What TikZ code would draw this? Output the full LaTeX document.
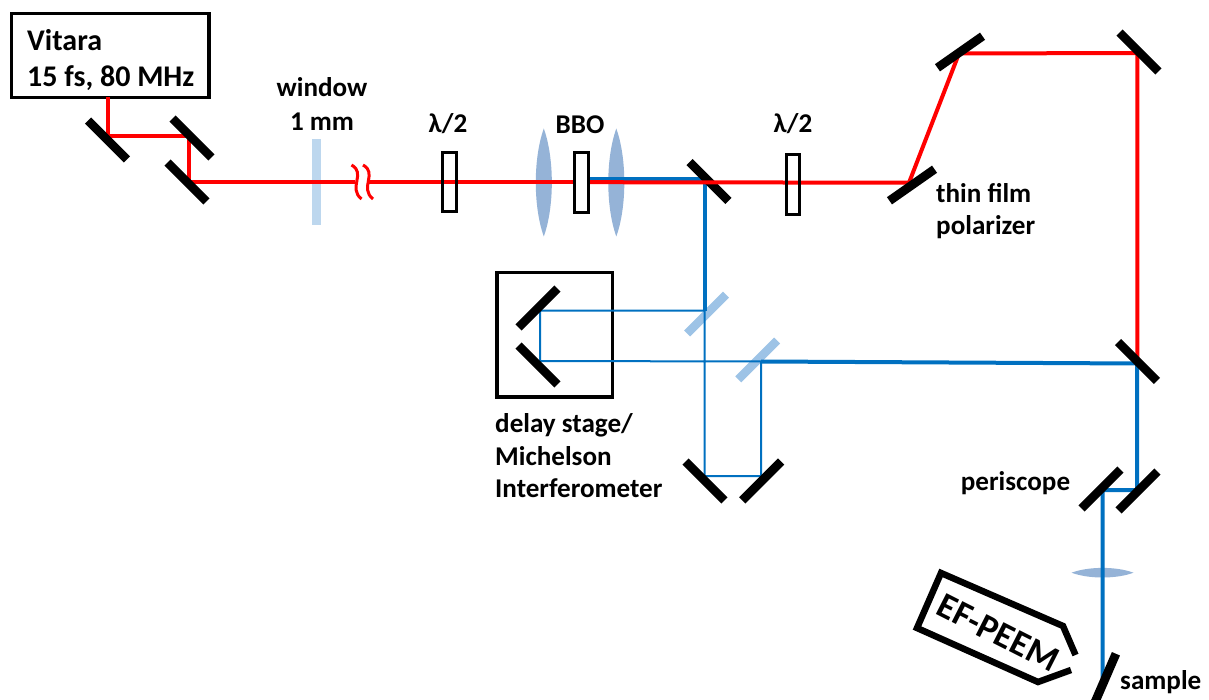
\documentclass[tikz,border=0pt]{standalone}
\usepackage{fontspec}
\setmainfont{Carlito}
\usetikzlibrary{positioning, calc}

\tikzset{
    mirror/.style={fill=black, minimum width=55pt, minimum height=8.8pt, inner sep=0pt},
    splitter/.style={fill=splitcolor, minimum width=55pt, minimum height=8.5pt, inner sep=0pt},
    plate/.style={draw=black, line width=3pt, fill=none, minimum width=13.5pt, minimum height=59.5pt, inner sep=0pt},
    frame/.style={draw=black, line width=3.8pt, inner sep=0pt},
    redbeam/.style={draw=beamred, line width=4pt},
    bluebeam/.style={draw=beamblue, line width=4pt},
    thinbeam/.style={draw=beamblue, line width=2pt},
    label/.style={font=\fontsize{27.1}{32}\selectfont\bfseries, inner sep=0pt},
    biglabel/.style={font=\fontsize{30}{36}\selectfont\bfseries, inner sep=0pt},
}

\begin{document}
\begin{tikzpicture}[x=1pt, y=-1pt]

\definecolor{beamred}{HTML}{FF0000}
\definecolor{beamblue}{HTML}{0070C0}
\definecolor{lenscolor}{HTML}{95B3D7}
\definecolor{splitcolor}{HTML}{9DC3E6}
\definecolor{windowcolor}{HTML}{BDD7EE}

\useasboundingbox (0,0) rectangle (1209,700);

% ---------------------------------------------------------------- boxes
\node[frame, minimum width=197.5pt, minimum height=84pt] (vitara) at (110.3,55.5) {};
\node[frame, minimum width=115.5pt, minimum height=124.5pt] (stage) at (554.7,334.7) {};

% ---------------------------------------------------------------- optics under the beams
\node[fill=windowcolor, minimum width=9.5pt, minimum height=86pt, inner sep=0pt] (window) at (316.7,182.3) {};
\foreach \name/\x/\y in {lensa/543.8/182.5, lensb/616.3/182.5} {
    \coordinate (\name) at (\x,\y);
    \fill[lenscolor] ($(\name)+(0,-54)$)
        .. controls ($(\name)+(10.7,-24)$) and ($(\name)+(10.7,24)$) .. ($(\name)+(0,54)$)
        .. controls ($(\name)+(-10.7,24)$) and ($(\name)+(-10.7,-24)$) .. ($(\name)+(0,-54)$);
}
\coordinate (lensc) at (1102.5,572.7);
\fill[lenscolor] ($(lensc)+(-31,0)$)
    .. controls ($(lensc)+(-14,-6.4)$) and ($(lensc)+(14,-6.4)$) .. ($(lensc)+(31,0)$)
    .. controls ($(lensc)+(14,6.4)$) and ($(lensc)+(-14,6.4)$) .. ($(lensc)+(-31,0)$);
\foreach \name/\x/\y in {splita/706.5/314, splitb/757.7/360} {
    \node[splitter, rotate=45] (\name) at (\x,\y) {};
}

% ---------------------------------------------------------------- beam corners
\coordinate (start) at (107.5,97);
\coordinate (ra) at (107.5,136);
\coordinate (rb) at (189,136);
\coordinate (rc) at (189,181.7);
\coordinate (rd) at (355,181.7);
\coordinate (re) at (368,181.9);
\coordinate (rf) at (573,181.9);
\coordinate (rg) at (590,182.2);
\coordinate (rh) at (909,182.7);
\coordinate (ri) at (959,53.5);
\coordinate (rj) at (1137.3,53);
\coordinate (rk) at (1137.3,358);
\coordinate (ba) at (590,179);
\coordinate (bb) at (704.5,179);
\coordinate (bc) at (704.5,310.7);
\coordinate (bd) at (704.5,476);
\coordinate (be) at (761,476);
\coordinate (bf) at (761,361.5);
\coordinate (bg) at (540,361);
\coordinate (bh) at (540,310.7);
\coordinate (bi) at (1137,363.5);
\coordinate (bj) at (1137,490);
\coordinate (bk) at (1102.7,490);
\coordinate (bl) at (1102.7,678);

% ---------------------------------------------------------------- beams
\draw[bluebeam] (ba) -- (bb) -- (bc);
\draw[thinbeam] (bc) -- (bd) -- (be) -- (bf) -- (bg) -- (bh) -- (bc);
\draw[bluebeam] (bf) -- (bi) -- (bj) -- (bk) -- (bl);

% the red line runs across this one
\node[mirror, rotate=-45] (md) at (709,181.5) {};

\draw[redbeam] (start) -- (ra) -- (rb) -- (rc) -- (rd);
\draw[redbeam] (re) -- (rf);
\draw[redbeam] (rg) -- (rh) -- (ri) -- (rj) -- (rk);

% the break in the line
\foreach \name/\x in {wava/356.5, wavb/368} {
    \coordinate (\name) at (\x,182);
    \draw[beamred, line width=3pt] ($(\name)+(-5,-17)$) .. controls ($(\name)+(10,-9)$) and ($(\name)+(-9,6)$) .. ($(\name)+(5,17)$);
}

% ---------------------------------------------------------------- mirrors
\foreach \name/\x/\y/\ang in {
    ma/107.5/140/-45, mb/192/138/-45, mc/187/182/-45,
    me/912/185/35, mf/960/52/35, mg/1139/52/-45,
    mh/1137.5/361.5/-45, mi/1138/491/45, mj/1101/489/45,
    dla/538/308/45, dlb/538/365/-45, ka/705/481/-45, kb/761.7/481/45,
    sample/1105/679/66.6} {
    \node[mirror, rotate=\ang] (\name) at (\x,\y) {};
}

% ---------------------------------------------------------------- plates
\node[plate] (hwa) at (449.7,182) {};
\node[plate, fill=white] (bbo) at (581.3,182.5) {};
\node[plate] (hwb) at (793,184.3) {};

% ---------------------------------------------------------------- EF-PEEM
\coordinate (pa) at (1075.5,655);
\coordinate (pb) at (1063,626);
\coordinate (pc) at (941,573);
\coordinate (pd) at (917,628);
\coordinate (pe) at (1038,682);
\coordinate (pf) at (1071,670);
\draw[black, line width=6.5pt, miter limit=4] (pa) -- (pb) -- (pc) -- (pd) -- (pe) -- (pf);
\node[font=\fontsize{36}{40}\selectfont\bfseries, inner sep=0pt, rotate=-26.9] (peem) at (998,633) {EF-PEEM};

% ---------------------------------------------------------------- labels
\node[biglabel, anchor=base west] (vitaraname) at (27,51) {Vitara};
\node[biglabel, anchor=base west] (vitarainfo) at (27,87) {15 fs, 80 MHz};
\node[label, anchor=base] (windowname) at (322,97) {window};
\node[label, anchor=base] (windowinfo) at (322,131) {1 mm};
\node[label, anchor=base] (hwalabel) at (448,133) {λ/2};
\node[label, anchor=base] (bbolabel) at (580,134) {BBO};
\node[label, anchor=base] (hwblabel) at (793,133) {λ/2};
\node[label, anchor=base west] (thinfilm) at (936,202.7) {thin film};
\node[label, anchor=base west] (polarizer) at (936,235) {polarizer};
\node[label, anchor=base west] (delay) at (495,432.7) {delay stage/};
\node[label, anchor=base west] (michelson) at (495,465) {Michelson};
\node[label, anchor=base west] (interferometer) at (495,497) {Interferometer};
\node[label, anchor=base west] (periscope) at (960.7,490.5) {periscope};
\node[label, anchor=base west] (samplename) at (1120,689) {sample};

\end{tikzpicture}
\end{document}
